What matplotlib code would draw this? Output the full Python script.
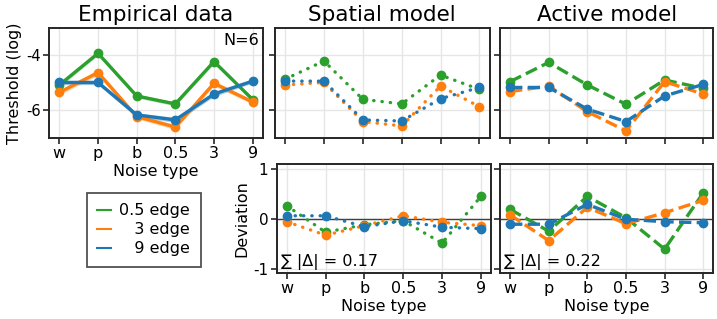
import matplotlib
matplotlib.use("Agg")
import matplotlib.pyplot as plt
import numpy as np

plt.rcParams['font.family'] = ['DejaVu Sans']

categories = ["w", "p", "b", "0.5", "3", "9"]
series_labels = ["0.5 edge", "   3 edge", "   9 edge"]
colors = ["#2ca02c", "#ff7f0e", "#1f77b4"]

# Empirical thresholds (log)
emp_green = [-5.09, -3.94, -5.49, -5.78, -4.24, -5.62]
emp_orange = [-5.36, -4.64, -6.24, -6.62, -5.03, -5.71]
emp_blue = [-5.00, -5.00, -6.18, -6.36, -5.42, -4.95]
emp_err_green = [0.08, 0.07, 0.07, 0.07, 0.07, 0.07]
emp_err_orange = [0.09, 0.09, 0.08, 0.09, 0.09, 0.08]
emp_err_blue = [0.08, 0.08, 0.08, 0.09, 0.09, 0.07]

# Spatial model
sp_green = [-4.88, -4.22, -5.61, -5.78, -4.73, -5.25]
sp_orange = [-5.09, -5.00, -6.42, -6.58, -5.13, -5.88]
sp_blue = [-4.95, -4.95, -6.36, -6.40, -5.59, -5.18]

# Active model
ac_green = [-4.97, -4.27, -5.09, -5.79, -4.91, -5.21]
ac_orange = [-5.33, -5.13, -6.06, -6.76, -4.97, -5.42]
ac_blue = [-5.18, -5.18, -5.97, -6.42, -5.49, -5.07]

# Deviations
dsp_green = [0.27, -0.26, -0.11, -0.03, -0.48, 0.46]
dsp_orange = [-0.05, -0.32, -0.13, 0.07, -0.06, -0.13]
dsp_blue = [0.07, 0.07, -0.15, -0.03, -0.16, -0.19]

dac_green = [0.20, -0.24, 0.46, 0.03, -0.60, 0.53]
dac_orange = [0.09, -0.43, 0.24, -0.09, 0.13, 0.38]
dac_blue = [-0.10, -0.10, 0.30, 0.00, -0.05, -0.07]

sum_sp = "∑ |Δ| = 0.17"
sum_ac = "∑ |Δ| = 0.22"

W, H = 717, 319
fig = plt.figure(figsize=(W / 100, H / 100), dpi=100)


def ax_px(x0, y0, x1, y1):
    return fig.add_axes([x0 / W, 1 - y1 / H, (x1 - x0) / W, (y1 - y0) / H])


axA = ax_px(49.3, 28.3, 262.7, 137.5)
axB = ax_px(275, 28.3, 489.5, 137.5)
axC = ax_px(500, 28.3, 713.3, 137.5)
axD = ax_px(276.7, 163.5, 491, 273)
axE = ax_px(500, 163.5, 713.3, 273)

x = np.arange(len(categories))
spine_col = "#262626"

for ax in [axA, axB, axC, axD, axE]:
    ax.set_xlim(-0.26, 5.26)
    ax.grid(True, color="#e6e6e6", lw=1.0, zorder=0)
    ax.set_axisbelow(True)
    for s in ax.spines.values():
        s.set_color(spine_col)
        s.set_linewidth(1.4)
    ax.tick_params(direction="out", length=4, width=1.2, color=spine_col,
                   labelsize=11.5, pad=2)
    ax.set_xticks(x)

for ax in [axA, axB, axC]:
    ax.set_ylim(-7, -3.03)
    ax.set_yticks([-4, -6])
for ax in [axD, axE]:
    ax.set_ylim(-1.08, 1.12)
    ax.set_yticks([-1, 0, 1])
    ax.axhline(0, color="#404040", lw=1.0, zorder=1)

lw = 2.4
ms = 6.0
dot_pattern = (0.1, 2.4)

# Empirical
emp = [emp_green, emp_orange, emp_blue]
errs = [emp_err_green, emp_err_orange, emp_err_blue]
for vals, err, c in zip(emp, errs, colors):
    v = np.array(vals)
    e = np.array(err)
    axA.fill_between(x, v - e, v + e, color=c, alpha=0.35, lw=0, zorder=2)
    axA.plot(x, v, color=c, lw=lw, marker="o", ms=ms, zorder=3)

for ax, group in [(axB, [sp_green, sp_orange, sp_blue]),
                  (axD, [dsp_green, dsp_orange, dsp_blue])]:
    for vals, c in zip(group, colors):
        ln, = ax.plot(x, vals, color=c, lw=lw, marker="o", ms=ms, zorder=3,
                      dash_capstyle="round")
        ln.set_dashes(dot_pattern)
for ax, group in [(axC, [ac_green, ac_orange, ac_blue]),
                  (axE, [dac_green, dac_orange, dac_blue])]:
    for vals, c in zip(group, colors):
        ax.plot(x, vals, color=c, lw=lw, ls="--", marker="o", ms=ms, zorder=3)

# tick labels
axA.set_xticklabels(categories)
axD.set_xticklabels(categories)
axE.set_xticklabels(categories)
axB.set_xticklabels([])
axC.set_xticklabels([])
axB.set_yticklabels([])
axC.set_yticklabels([])
axE.set_yticklabels([])
axA.set_yticklabels(["-4", "-6"])
axD.set_yticklabels(["-1", "0", "1"])
axA.tick_params(axis="y", labelsize=10.5)
axD.tick_params(axis="y", labelsize=11)

axA.set_ylabel("Threshold (log)", fontsize=11.5, labelpad=3)
axD.set_ylabel("Deviation", fontsize=11.5, labelpad=3)
for ax in [axA, axD, axE]:
    ax.set_xlabel("Noise type", fontsize=11.5, labelpad=2)

axA.set_title("Empirical data", fontsize=15.5, pad=5)
axB.set_title("Spatial model", fontsize=15.5, pad=5)
axC.set_title("Active model", fontsize=15.5, pad=5)

axA.text(0.985, 0.89, "N=6", transform=axA.transAxes, ha="right", va="center",
         fontsize=11.5)
axD.text(0.02, 0.03, sum_sp, transform=axD.transAxes, ha="left", va="bottom",
         fontsize=11.5)
axE.text(0.02, 0.03, sum_ac, transform=axE.transAxes, ha="left", va="bottom",
         fontsize=11.5)

handles = [plt.Line2D([0], [0], color=c, lw=1.5) for c in colors]
leg = fig.legend(handles, series_labels, loc="upper left",
                 bbox_to_anchor=(86.7 / W, 1 - 193 / H), fontsize=11.5,
                 frameon=True, fancybox=False, edgecolor=spine_col,
                 handlelength=0.9, handletextpad=0.5, borderpad=0.65,
                 labelspacing=0.25, borderaxespad=0)
leg.get_frame().set_linewidth(1.3)

fig.savefig("out.png", dpi=100)
